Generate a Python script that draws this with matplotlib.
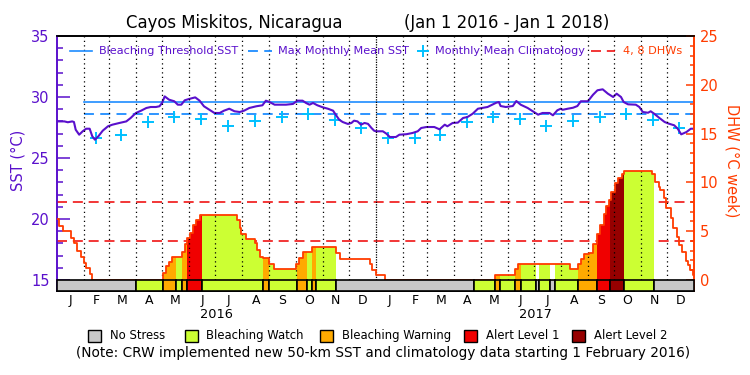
import numpy as np
import matplotlib
matplotlib.use("Agg")
import matplotlib.pyplot as plt
import matplotlib.transforms as mtrans
from matplotlib.lines import Line2D
from matplotlib.patches import Rectangle

PURPLE = "#5a10cc"
ORANGE = "#ff3c00"
BLUE = "#1e8cff"
CYAN = "#00c0ff"
DASHRED = "#f01414"

# x values are days counted from 1 Jan 2016
month_len = [31, 29, 31, 30, 31, 30, 31, 31, 30, 31, 30, 31,
             31, 28, 31, 30, 31, 30, 31, 31, 30, 31, 30, 31]
month_letters = list("JFMAMJJASOND") * 2
years = ["2016", "2017"]

sst_days = [0, 5, 9, 13, 18, 20, 22, 26, 30, 34, 38, 41, 44, 48, 53, 59, 64, 72, 80, 85,
            91, 97, 103, 108, 114, 118, 121, 124, 129, 135, 139, 143, 147, 152, 159, 164,
            169, 175, 181, 187, 192, 198, 204, 210, 215, 221, 229, 236, 240, 244, 250, 255,
            263, 271, 276, 282, 286, 290, 294, 299, 305, 311, 317, 320, 324, 328, 334, 338,
            341, 345, 349, 353, 357, 361, 364,
            366, 374, 378, 382, 389, 393, 401, 408, 414, 418, 424, 433, 439, 445, 448, 454,
            460, 466, 471, 477, 483, 489, 494, 498, 504, 507, 509, 515, 523, 527, 532, 540,
            546, 552, 557, 565, 569, 574, 578, 580, 586, 592, 597, 601, 609, 615, 620, 626,
            632, 638, 642, 647, 650, 655, 664, 668, 672, 678, 681, 685, 691, 697, 702, 708,
            712, 716, 722, 727, 731]
sst_vals = [28.00, 28.00, 28.00, 27.93, 28.00, 27.95, 27.32, 26.91, 27.19, 27.40, 27.40, 26.78,
            26.50, 26.78, 27.24, 27.60, 27.73, 27.87, 28.00, 28.28, 28.69, 28.88, 29.10, 29.18,
            29.18, 29.24, 29.51, 30.05, 29.78, 29.65, 29.37, 29.37, 29.73, 29.84, 29.97, 29.70,
            29.24, 28.96, 28.69, 28.69, 28.88, 29.04, 28.83, 28.77, 28.88, 29.10, 29.24, 29.32,
            29.70, 29.59, 29.37, 29.37, 29.37, 29.43, 29.70, 29.70, 29.51, 29.37, 29.51, 29.32,
            29.16, 29.04, 28.88, 28.55, 28.14, 27.95, 27.79, 27.87, 28.06, 28.00, 27.73, 27.87,
            27.80, 27.46, 27.24,
            27.19, 27.19, 27.00, 26.72, 26.72, 26.91, 26.95, 27.05, 27.19, 27.46, 27.54, 27.54,
            27.35, 27.73, 27.60, 27.87, 27.90, 28.28, 28.36, 28.63, 29.04, 29.12, 29.18, 29.32,
            29.53, 29.59, 29.26, 29.18, 29.26, 29.67, 29.37, 29.10, 28.83, 28.55, 28.69, 28.69,
            28.50, 28.91, 29.04, 28.95, 29.04, 29.12, 29.26, 29.65, 29.65, 30.19, 30.55, 30.63,
            30.27, 30.00, 30.27, 30.00, 29.59, 29.40, 29.37, 29.18, 28.77, 28.71, 28.83, 28.63,
            28.28, 27.95, 27.81, 27.68, 27.40, 26.94, 27.13, 27.40, 27.40]

clim_vals = [26.64, 26.68, 26.91, 27.94, 28.32, 28.21, 27.66, 28.00, 28.40, 28.60, 28.09, 27.46]
mmm = 28.62
threshold = mmm + 1.0
new_data_start = 31  # 1 Feb 2016

dhw_days = [0, 3, 7, 17, 20, 23, 28, 31, 34, 38, 41,
            122, 125, 129, 132, 144, 147, 150, 153, 156, 160, 164, 207, 210, 212, 217, 228,
            230, 233, 237, 244, 249, 275, 278, 283, 293, 320, 325, 359, 362, 366, 377,
            503, 525, 529, 588, 598, 601, 605, 610, 615, 620, 623, 627, 630, 633, 636, 640,
            644, 648, 650, 683, 686, 690, 692, 696, 699, 704, 707, 711, 714, 717, 721, 724,
            726, 729]
dhw_vals = [6.22, 5.53, 5.02, 4.27, 3.76, 2.97, 2.32, 1.77, 1.20, 0.61, 0.0,
            0.68, 1.43, 1.88, 2.39, 2.90, 3.65, 4.27, 4.85, 5.64, 6.15, 6.62, 6.15, 5.29, 4.68,
            4.17, 3.76, 3.07, 2.39, 2.22, 1.60, 1.13, 1.60, 2.29, 2.83, 3.35, 2.73, 2.15, 1.60,
            1.02, 0.51, 0.0,
            0.51, 1.09, 1.60, 1.09, 1.60, 2.12, 2.63, 2.73, 3.65, 4.68, 5.64, 6.73, 7.58, 8.20,
            8.98, 9.90, 10.42, 10.83, 11.17, 10.83, 10.07, 9.56, 9.22, 8.37, 7.41, 6.38, 5.36,
            4.44, 3.59, 2.83, 1.98, 1.54, 1.02, 0.51]
dhw_marks = [4, 8]

status_days = [0, 91, 122, 137, 144, 150, 167, 237, 244, 276, 287, 293, 297, 320,
               479, 503, 508, 525, 532, 550, 553, 566, 571, 598, 620, 634, 650, 685]
status_lvl = [0, 1, 2, 1, 2, 3, 1, 2, 1, 2, 1, 2, 1, 0,
              1, 2, 1, 2, 1, 0, 1, 0, 1, 2, 3, 4, 1, 0]
status_names = ["No Stress", "Bleaching Watch", "Bleaching Warning", "Alert Level 1", "Alert Level 2"]
status_colors = ["#c8c8c8", "#ccff33", "#ffaa00", "#f00000", "#960000"]

month_start = np.concatenate([[0], np.cumsum(month_len)])
end_day = int(month_start[-1])
mid_month = month_start[:-1] + np.array(month_len) / 2.0


def fx(px):
    return px / 750.0


def fy(py):
    return 1 - py / 375.0


def dhw_at(x):
    i = np.searchsorted(dhw_days, x, side="right") - 1
    return dhw_vals[i] if i >= 0 else 0.0


fig = plt.figure(figsize=(7.5, 3.75), dpi=100)
ax = fig.add_axes([fx(56.5), fy(290.7), fx(694.3) - fx(56.5), (290.7 - 36) / 375.0])
ax2 = ax.twinx()

ax.set_xlim(0, end_day)
ax.set_ylim(15 - 10.7 / 12.2, 35)
bar_lo = -10.7 / 9.76
ax2.set_ylim(bar_lo, 25)

# SST side
ax.plot([new_data_start, end_day], [threshold, threshold], color=BLUE, lw=1.2)
ax.plot([new_data_start, end_day], [mmm, mmm], color=BLUE, lw=1.3, ls=(0, (5.5, 3.5)))
clim_x = [month_start[m] + 14 for m in range(1, 24)]
clim_y = [clim_vals[m % 12] for m in range(1, 24)]
ax.plot(clim_x, clim_y, ls="none", marker="+", ms=8, mew=1.4, color=CYAN)
ax.plot(sst_days, sst_vals, color=PURPLE, lw=1.5)

# DHW side
for v in dhw_marks:
    ax2.plot([0, end_day], [v, v], color=DASHRED, lw=1.2, ls=(0, (6, 3.5)), zorder=1)

seg_end = status_days[1:] + [end_day]
for s, e, lv in zip(status_days, seg_end, status_lvl):
    ax2.add_patch(Rectangle((s, bar_lo), e - s, -bar_lo, fc=status_colors[lv], ec="k",
                            lw=1.2, zorder=5, clip_on=False))
    if lv == 0:
        continue
    xs = [s] + [d for d in dhw_days if s < d < e] + [e]
    ys = [dhw_at(x) for x in xs]
    ax2.fill_between(xs, 0, ys, step="post", color=status_colors[lv], lw=0, zorder=2)

for i, m in enumerate(month_start[1:-1]):
    pat = (0, (1, 1)) if (i + 1) % 12 == 0 else (0, (1, 2.6))
    ax2.plot([m, m], [0, 25], color="k", lw=0.9, ls=pat, zorder=3)

ax2.step(dhw_days + [end_day], dhw_vals + [dhw_vals[-1]], where="post", color=ORANGE,
         lw=1.3, zorder=4)

# axes styling
for a in (ax, ax2):
    a.spines["top"].set_color("k")
    a.spines["bottom"].set_color("k")
    a.spines["left"].set_color(PURPLE)
    a.spines["right"].set_color(ORANGE)
    for sp in a.spines.values():
        sp.set_linewidth(1.2)

ax.set_yticks(range(15, 36, 5))
ax.set_yticks(range(15, 36), minor=True)
ax.tick_params(axis="y", which="major", direction="in", length=9, width=1.1,
               color=PURPLE, labelcolor=PURPLE, labelsize=10.5, pad=5)
ax.tick_params(axis="y", which="minor", direction="in", length=4.3, width=1.1, color=PURPLE)
ax2.set_yticks(range(0, 26, 5))
ax2.set_yticks(range(0, 26), minor=True)
ax2.tick_params(axis="y", which="major", direction="in", length=5.5, width=1.1,
                color=ORANGE, labelcolor=ORANGE, labelsize=10.5, pad=4)
ax2.tick_params(axis="y", which="minor", direction="in", length=3, width=1.1, color=ORANGE)

ax.set_xticks(mid_month)
ax.set_xticklabels(month_letters)
ax.tick_params(axis="x", length=0, labelsize=9, pad=2.5)

ytrans = mtrans.blended_transform_factory(ax.transData, fig.transFigure)
for k, yr in enumerate(years):
    ax.text((month_start[12 * k] + month_start[12 * k + 12]) / 2.0, fy(315), yr,
            transform=ytrans, ha="center", va="center", fontsize=9.3)

fig.text(fx(18), fy(160), "SST (°C)", rotation=90, ha="center", va="center",
         color=PURPLE, fontsize=10.5)
fig.text(fx(732), fy(161), "DHW (°C week)", rotation=-90, ha="center", va="center",
         color=ORANGE, fontsize=10.5)

# title
fig.text(fx(126), fy(23), "Cayos Miskitos, Nicaragua", ha="left", va="center", fontsize=11.9)
fig.text(fx(507), fy(23), "(Jan 1 2016 - Jan 1 2018)", ha="center", va="center", fontsize=11.9)

# top legend
ly = fy(51)
lfs = 8.1
fig.add_artist(Line2D([fx(70), fx(92)], [ly, ly], transform=fig.transFigure, color=BLUE, lw=1.2))
fig.text(fx(98.6), ly, "Bleaching Threshold SST", color=PURPLE, fontsize=lfs, va="center")
fig.add_artist(Line2D([fx(248), fx(272)], [ly, ly], transform=fig.transFigure, color=BLUE,
                      lw=1.3, ls=(0, (5.5, 3.5))))
fig.text(fx(278), ly, "Max Monthly Mean SST", color=PURPLE, fontsize=lfs, va="center")
fig.add_artist(Line2D([fx(423)], [ly], transform=fig.transFigure, ls="none", marker="+",
                      ms=8, mew=1.4, color=CYAN))
fig.text(fx(435), ly, "Monthly Mean Climatology", color=PURPLE, fontsize=lfs, va="center")
fig.add_artist(Line2D([fx(591), fx(615)], [ly, ly], transform=fig.transFigure, color=DASHRED,
                      lw=1.2, ls=(0, (6, 3.5))))
fig.text(fx(622.6), ly, "4, 8 DHWs", color=ORANGE, fontsize=lfs, va="center")

# bottom legend
box_x = [88, 185, 320, 464, 572]
for bx, name, col in zip(box_x, status_names, status_colors):
    fig.add_artist(Rectangle((fx(bx), fy(341.5)), 13 / 750.0, 12 / 375.0,
                             transform=fig.transFigure, fc=col, ec="k", lw=1))
    fig.text(fx(bx + 21.5), fy(335.7), name, fontsize=8.4, va="center")

fig.text(fx(383.5), fy(353.5),
         "(Note: CRW implemented new 50-km SST and climatology data starting 1 February 2016)",
         ha="center", va="center", fontsize=9.8)

fig.savefig("out.png", dpi=100)
